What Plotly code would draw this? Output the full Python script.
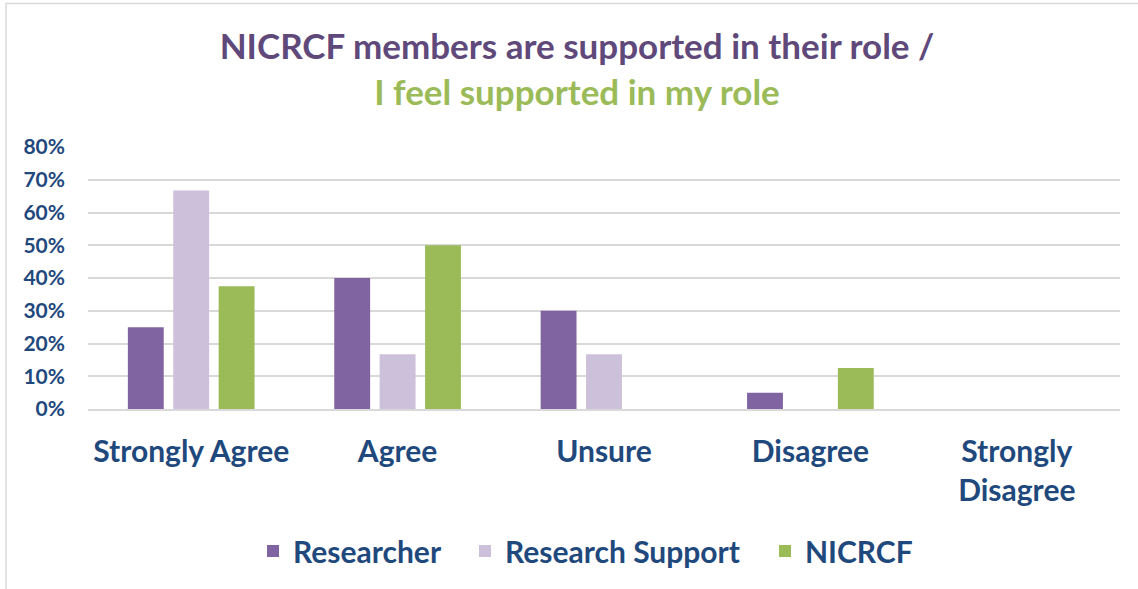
import plotly.graph_objects as go

categories = ["Strongly Agree", "Agree", "Unsure", "Disagree", "Strongly<br>Disagree"]
series_names = ["Researcher", "Research Support", "NICRCF"]
researcher = [0.25, 0.40, 0.30, 0.05, 0.0]
research_support = [0.667, 0.167, 0.167, 0.0, 0.0]
nicrcf = [0.375, 0.50, 0.0, 0.125, 0.0]
colors = ["#8064A2", "#CCC0DA", "#9BBB59"]
y_ticks = [0, 0.1, 0.2, 0.3, 0.4, 0.5, 0.6, 0.7, 0.8]

FONT = "Lato"
TEXT = "#1F497D"

W, H = 1138, 589
L, R, T, B = 88, 18, 147, 180
pw, ph = W - L - R, H - T - B

legend_ids = ["legend", "legend2", "legend3"]
legend_text_x = [293, 505, 805]  # where each legend entry's text starts (px)

fig = go.Figure()
for name, vals, col, lid in zip(series_names, [researcher, research_support, nicrcf], colors, legend_ids):
    fig.add_trace(go.Bar(x=categories, y=vals, name=name, legend=lid, showlegend=True,
                         marker=dict(color=col, line=dict(width=0))))

leg_common = dict(
    orientation="h", xanchor="left", y=(409 - 551) / ph, yanchor="middle",
    font=dict(family=FONT, size=30, color=TEXT, weight="bold"),
    itemwidth=30, bgcolor="rgba(0,0,0,0)",
)
legends = {}
for lid, tx in zip(legend_ids, legend_text_x):
    legends[lid] = dict(leg_common, x=(tx - 40 - L) / pw)

fig.update_layout(
    width=W, height=H, showlegend=True,
    margin=dict(l=L, r=R, t=T, b=B, autoexpand=False),
    paper_bgcolor="white", plot_bgcolor="white",
    barmode="group", bargap=0.34, bargroupgap=0.21,
    font=dict(family=FONT, color=TEXT),
    title=dict(
        text="<span style='color:#5F497A'>NICRCF members are supported in their role /</span><br>"
             "<span style='color:#9BBB59'>I feel supported in my role</span>",
        font=dict(family=FONT, size=35, weight="bold"),
        x=577 / W, xanchor="center", xref="container",
        y=1 - 59 / H, yanchor="top", yref="container",
    ),
    xaxis=dict(
        tickfont=dict(family=FONT, size=30, color=TEXT, weight="bold"),
        showgrid=False, showline=True, linecolor="#D9D9D9", linewidth=2,
        ticks="", ticklabelstandoff=15, automargin=False,
    ),
    yaxis=dict(
        range=[0, 0.8], tickvals=y_ticks, tickformat=".0%",
        tickfont=dict(family=FONT, size=21, color=TEXT, weight="bold"),
        showgrid=True, gridcolor="#D9D9D9", gridwidth=1.5,
        zeroline=False, showline=False, ticks="", ticklabelstandoff=22, automargin=False,
    ),
    shapes=[dict(
        type="rect", xref="paper", yref="paper",
        x0=(6 - L) / pw, x1=1.2, y0=-1.5, y1=(409 - 3.5) / ph,
        line=dict(color="#D9D9D9", width=1.5), fillcolor="rgba(0,0,0,0)", layer="below",
    )],
    **legends,
)

fig.write_html(
    "out.html",
    config={"displayModeBar": False},
    post_script="document.body.style.margin='0';document.body.style.overflow='hidden';",
)
